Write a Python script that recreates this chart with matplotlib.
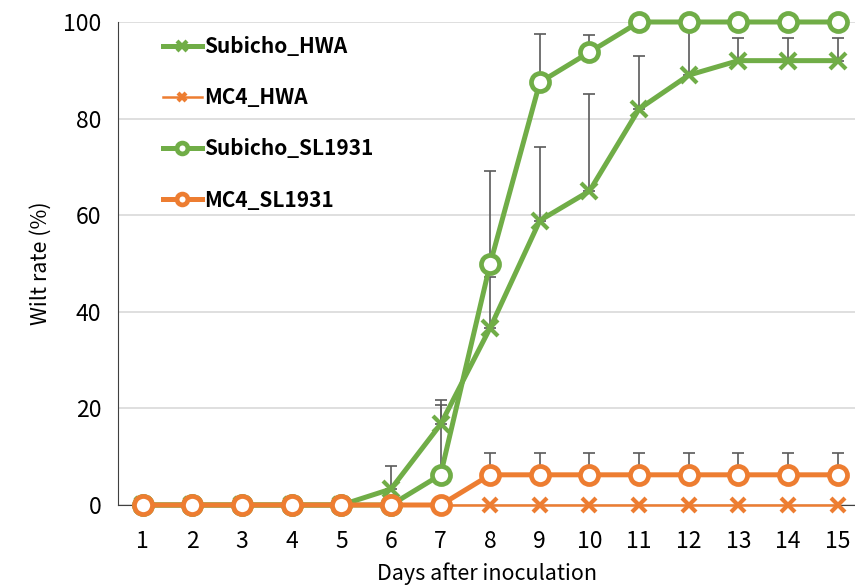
import matplotlib.pyplot as plt
import numpy as np

plt.rcParams["font.family"] = ["Noto Sans CJK KR", "DejaVu Sans"]

days = np.arange(1, 16)

# wilt rate (%) and upper error bars
subicho_hwa = [0, 0, 0, 0, 0, 3.3, 16.7, 36.7, 58.9, 65.0, 82.0, 89.0, 92.0, 92.0, 92.0]
subicho_hwa_err = [0, 0, 0, 0, 0, 4.8, 5.0, 10.5, 15.2, 20.0, 11.0, 11.0, 4.6, 4.6, 4.6]

mc4_hwa = [0] * 15

subicho_sl = [0, 0, 0, 0, 0, 0, 6.25, 50.0, 87.5, 93.75, 100, 100, 100, 100, 100]
subicho_sl_err = [0, 0, 0, 0, 0, 0, 14.5, 19.2, 10.0, 3.6, 0, 0, 0, 0, 0]

mc4_sl = [0, 0, 0, 0, 0, 0, 0, 6.25, 6.25, 6.25, 6.25, 6.25, 6.25, 6.25, 6.25]
mc4_sl_err = [0, 0, 0, 0, 0, 0, 0, 4.5, 4.5, 4.5, 4.5, 4.5, 4.5, 4.5, 4.5]

green = "#70AD47"
orange = "#ED7D31"
err_color = "#5A5A5A"

fig = plt.figure(figsize=(8.55, 5.87), dpi=100)
ax = fig.add_axes([118 / 855, 1 - 505 / 587, 737 / 855, 483 / 587])


def upper_err(y, e):
    e = np.array(e, dtype=float)
    mask = e > 0
    ax.errorbar(days[mask], np.array(y)[mask], yerr=[np.zeros(mask.sum()), e[mask]],
                fmt="none", ecolor=err_color, elinewidth=1.2, capsize=4, capthick=1.2, zorder=2)


upper_err(subicho_hwa, subicho_hwa_err)
upper_err(subicho_sl, subicho_sl_err)
upper_err(mc4_sl, mc4_sl_err)

ax.plot(days, subicho_hwa, color=green, lw=3.6, marker="x", ms=11, mew=3,
        label="Subicho_HWA", zorder=4)
ax.plot(days, mc4_hwa, color=orange, lw=1.8, marker="x", ms=10, mew=3,
        label="MC4_HWA", zorder=3)
ax.plot(days, subicho_sl, color=green, lw=3.6, marker="o", ms=13, mew=3.4,
        mfc="white", label="Subicho_SL1931", zorder=5)
ax.plot(days, mc4_sl, color=orange, lw=3.6, marker="o", ms=13, mew=3.4,
        mfc="white", label="MC4_SL1931", zorder=5)

ax.set_xlim(0.5, 15.35)
ax.set_ylim(0, 100)
ax.set_xticks(days)
ax.set_yticks([0, 20, 40, 60, 80, 100])
ax.tick_params(axis="both", labelsize=16.5, length=0)
ax.tick_params(axis="y", pad=12)
ax.tick_params(axis="x", pad=18)
ax.yaxis.grid(True, color="#D9D9D9", lw=1.2)
ax.set_axisbelow(True)
for s in ["top", "right"]:
    ax.spines[s].set_visible(False)
ax.spines["left"].set_color("#404040")
ax.spines["bottom"].set_color("#404040")
for ln in ax.lines:
    ln.set_clip_on(False)

ax.set_xlabel("Days after inoculation", fontsize=15.5, labelpad=7)
ax.set_ylabel("Wilt rate (%)", fontsize=15.5, labelpad=8)

leg = ax.legend(loc="upper left", bbox_to_anchor=(0.035, 1.01), frameon=False,
                prop={"weight": "bold", "size": 15}, handlelength=1.9,
                handletextpad=0.1, labelspacing=1.45, markerscale=0.6)

fig.savefig("out.png", dpi=100)
